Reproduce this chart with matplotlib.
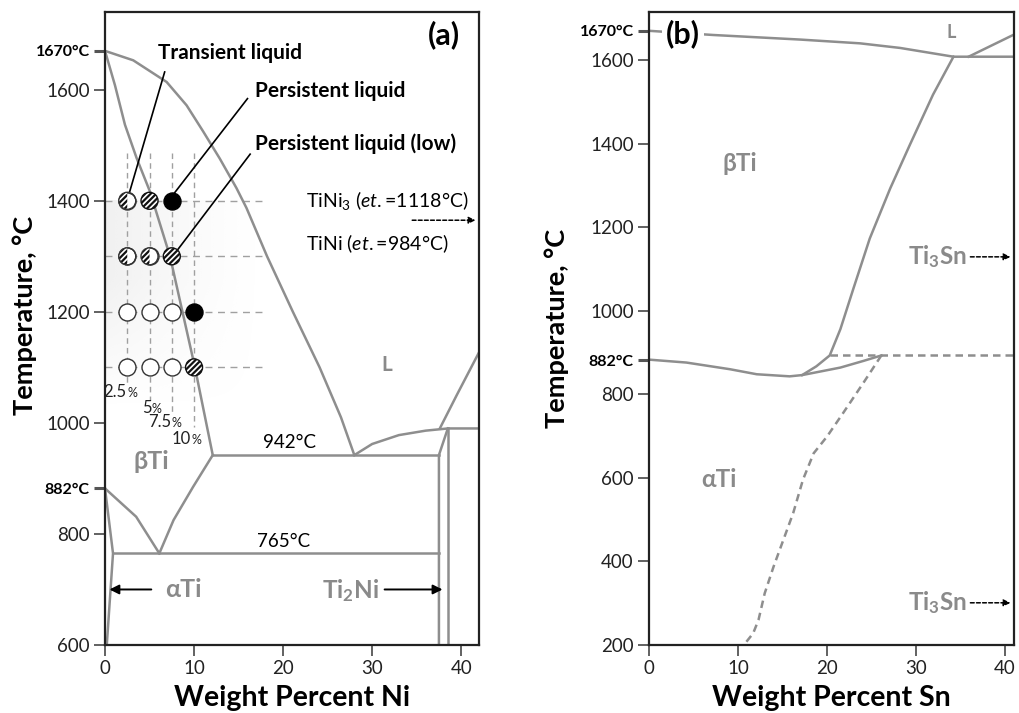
import numpy as np
import matplotlib
matplotlib.use("Agg")
import matplotlib.pyplot as plt
from matplotlib.markers import MarkerStyle

plt.rcParams['font.family'] = ['Lato', 'DejaVu Sans']
plt.rcParams['mathtext.fontset'] = 'custom'
plt.rcParams['mathtext.rm'] = 'Lato'
plt.rcParams['mathtext.it'] = 'Lato:italic'
plt.rcParams['mathtext.bf'] = 'Lato:bold'
plt.rcParams['hatch.linewidth'] = 1.6

# ---------------- data: Ti-Ni (panel a) ----------------
ni_liq_x = [0, 3.17, 6.92, 9.16, 11.02, 12.89, 14.76, 15.89, 18.2, 21.1, 24.1, 26.5, 28.0]
ni_liq_t = [1670, 1653, 1614, 1572, 1525, 1476, 1423, 1387, 1300, 1200, 1100, 1010, 942]
ni_sol_x = [0, 1.12, 2.24, 3.55, 5.04, 7.3, 8.7, 10.1, 12.1]
ni_sol_t = [1670, 1608, 1537, 1477, 1417, 1300, 1200, 1100, 942]
ni_eut_x = [12.1, 37.5]
ni_eut_t = [942, 942]
ni_ti2ni_liq_x = [28.0, 30, 33, 36, 38.5, 42]
ni_ti2ni_liq_t = [942, 962, 978, 986, 990, 990]
ni_right_x = [37.6, 39.5, 42]
ni_right_t = [990, 1050, 1127]
ni_btr1_x = [0, 3.5, 6.1]
ni_btr1_t = [882, 831, 765]
ni_btr2_x = [6.1, 7.7, 9.9, 12.1]
ni_btr2_t = [765, 825, 885, 942]
ni_eutd_x = [0.9, 37.5]
ni_eutd_t = [765, 765]
ni_asol_x = [0, 0.9, 0.2]
ni_asol_t = [882, 765, 600]
ni_ti2ni_a_x = [37.5, 37.5, 38.5]
ni_ti2ni_a_t = [600, 942, 990]
ni_ti2ni_b_x = [38.5, 38.5]
ni_ti2ni_b_t = [600, 990]

ni_yticks = [600, 800, 1000, 1200, 1400, 1600]
ni_xticks = [0, 10, 20, 30, 40]

comp = [2.5, 5, 7.5, 10]
comp_labels = ['2.5%', '5%', '7.5%', '10%']
temps = [1400, 1300, 1200, 1100]
marker_x = [2.5, 5, 7.5, 2.5, 5, 7.5, 2.5, 5, 7.5, 10, 2.5, 5, 7.5, 10]
marker_t = [1400, 1400, 1400, 1300, 1300, 1300, 1200, 1200, 1200, 1200, 1100, 1100, 1100, 1100]
marker_state = ['half', 'hatch', 'solid', 'half', 'half', 'hatch',
                'open', 'open', 'open', 'solid', 'open', 'open', 'open', 'hatch']

# ---------------- data: Ti-Sn (panel b) ----------------
sn_liq_x = [0, 7.2, 17.0, 23.7, 28.2, 34.2, 41]
sn_liq_t = [1670, 1660, 1649, 1640, 1629, 1608, 1608]
sn_ti3sn_liq_x = [35.9, 41]
sn_ti3sn_liq_t = [1608, 1661]
sn_bsolv_x = [34.2, 31.9, 29.3, 27.1, 24.8, 22.96, 21.5, 20.3, 18.8, 17.2]
sn_bsolv_t = [1608, 1517, 1397, 1293, 1173, 1053, 956, 893, 867, 846]
sn_btr_x = [0, 4.2, 9.1, 12.1, 15.8, 17.2, 21.5, 24.1, 26.1]
sn_btr_t = [883, 876, 860, 848, 843, 846, 864, 880, 893]
sn_eutd_x = [20.3, 41]
sn_eutd_t = [893, 893]
sn_asol_x = [26.1, 24.1, 21.8, 20.0, 18.5, 17.3, 16.2, 15.1, 14.0, 13.0, 12.3, 11.7, 10.8]
sn_asol_t = [893, 828, 755, 699, 659, 596, 516, 452, 388, 324, 260, 228, 204]
sn_yticks = [200, 400, 600, 800, 1000, 1200, 1400, 1600]
sn_xticks = [0, 10, 20, 30, 40]

GRAY = '#8e8e8e'
TXTGRAY = '#8a8a8a'
LW = 1.8

fig = plt.figure(figsize=(10.19, 7.13), dpi=100)
axA = fig.add_axes([105/1019, 1-645/713, 374/1019, 633/713])
axB = fig.add_axes([649/1019, 1-645/713, 365/1019, 633/713])


def style_axis(ax, xlim, ylim, xticks, yticks, xlabel, ylabel_x, ylabel_y):
    ax.set_xlim(*xlim)
    ax.set_ylim(*ylim)
    ax.set_xticks(xticks)
    ticks = list(yticks) + [882, 1670]
    ax.set_yticks(ticks)
    labels = [str(t) for t in yticks] + ['882°C', '1670°C']
    ax.set_yticklabels(labels)
    ax.tick_params(axis='both', direction='out', length=8, width=1.3,
                   color='#555555', labelsize=13.5, pad=3, labelcolor='#222222')
    for tk, lab in zip(ax.yaxis.get_major_ticks(), ax.get_yticklabels()):
        if lab.get_text().endswith('°C'):
            lab.set_fontweight('bold')
            lab.set_fontsize(11.5)
            lab.set_color('black')
            tk.tick1line.set_markeredgewidth(2.2)
            tk.tick1line.set_color('black')
    for s in ax.spines.values():
        s.set_linewidth(1.6)
        s.set_color('#222222')
        s.set_zorder(6)
    ax.set_xlabel(xlabel, fontsize=20.5, fontweight='bold', va='center')
    ax.xaxis.set_label_coords(0.5, -0.084)
    ax.set_ylabel('Temperature, °C', fontsize=19.5, fontweight='bold', va='center')
    ax.yaxis.set_label_coords(ylabel_x, ylabel_y)


# ---------------- panel (a) ----------------
ax = axA
style_axis(ax, (0, 42), (600, 1740), ni_xticks, ni_yticks, 'Weight Percent Ni', -0.214, 0.52)

# very light gradient background behind the markers
gx = np.linspace(0, 1, 200)
gy = np.linspace(0, 1, 200)
GX, GY = np.meshgrid(gx, gy)
alpha = (1 - GX) ** 1.3 * np.clip(GY * 1.6, 0, 1)
rgba = np.zeros((200, 200, 4))
rgba[..., :3] = 0.80
rgba[..., 3] = alpha * 0.28
ax.imshow(rgba, extent=[0, 17.5, 1030, 1400], aspect='auto', origin='lower',
          zorder=0, interpolation='bilinear')

for xs, ts in [(ni_liq_x, ni_liq_t), (ni_sol_x, ni_sol_t), (ni_eut_x, ni_eut_t),
               (ni_ti2ni_liq_x, ni_ti2ni_liq_t), (ni_right_x, ni_right_t),
               (ni_btr1_x, ni_btr1_t), (ni_btr2_x, ni_btr2_t), (ni_eutd_x, ni_eutd_t),
               (ni_asol_x, ni_asol_t), (ni_ti2ni_a_x, ni_ti2ni_a_t),
               (ni_ti2ni_b_x, ni_ti2ni_b_t)]:
    ax.plot(xs, ts, color=GRAY, lw=LW, zorder=2, solid_joinstyle='round')

# dashed guides
vend = [1072, 1041, 1017, 992]
for c, ve in zip(comp, vend):
    ax.plot([c, c], [1486, ve], color='#a0a0a0', lw=1.0, ls=(0, (4, 3)), zorder=1)
for t in temps:
    ax.plot([0, 17.7], [t, t], color='#a0a0a0', lw=1.0, ls=(0, (5, 4)), zorder=1)

# labels of compositions
lab_pos = [(2.4, 1056), (5.2, 1027), (7.4, 1002), (9.6, 971)]
for (lx, lt), s in zip(lab_pos, comp_labels):
    num = s[:-1]
    ax.annotate(num, (lx, lt), ha='right', va='center', fontsize=12, color='#222222')
    ax.annotate('%', (lx, lt), xytext=(0.5, -1), textcoords='offset points',
                ha='left', va='center', fontsize=9, color='#222222')

# markers
S = 150
mx = np.array(marker_x)
mt = np.array(marker_t)
st = np.array(marker_state)
m = st == 'open'
ax.scatter(mx[m], mt[m], s=S, facecolor='white', edgecolor='#333333', lw=1.0, zorder=5)
m = st == 'solid'
ax.scatter(mx[m], mt[m], s=S, facecolor='black', edgecolor='black', lw=1.0, zorder=5)
m = st == 'hatch'
ax.scatter(mx[m], mt[m], s=S, facecolor='white', edgecolor='#111111', lw=1.0,
           hatch='//////', zorder=5)
m = st == 'half'
ax.scatter(mx[m], mt[m], s=S, facecolor='white', edgecolor='#333333', lw=1.0, zorder=5)
ax.scatter(mx[m], mt[m], s=S, marker=MarkerStyle('o', fillstyle='left'),
           facecolor='white', edgecolor='#111111', lw=0, hatch='//////', zorder=6)
ax.scatter(mx[m], mt[m], s=S, facecolor='none', edgecolor='#333333', lw=1.0, zorder=7)

# annotations with leader lines
ax.plot([2.6, 6.7], [1407, 1632], color='black', lw=1.2, zorder=4)
ax.text(5.9, 1666, 'Transient liquid', fontsize=15, fontweight='bold', va='center', ha='left')
ax.plot([7.6, 16.0], [1410, 1584], color='black', lw=1.2, zorder=4)
ax.text(16.8, 1597, 'Persistent liquid', fontsize=15, fontweight='bold', va='center', ha='left')
ax.plot([7.6, 16.3], [1300, 1484], color='black', lw=1.2, zorder=4)
ax.text(16.9, 1502, 'Persistent liquid (low)', fontsize=15, fontweight='bold', va='center', ha='left')

ax.text(22.6, 1401, 'TiNi$_3$ ($\\mathit{et.}$=1118°C)', fontsize=14, va='center', ha='left')
ax.text(22.6, 1323, 'TiNi ($\\mathit{et.}$=984°C)', fontsize=14, va='center', ha='left')
ax.annotate('', xy=(41.6, 1365), xytext=(34.5, 1365),
            arrowprops=dict(arrowstyle='-|>', color='black', lw=1.1, ls=(0, (2.5, 1.5)),
                            mutation_scale=10, shrinkA=0, shrinkB=0))

ax.text(38.1, 1700, '(a)', fontsize=22, fontweight='bold', ha='center', va='center')
ax.text(31.6, 1104, 'L', fontsize=15, fontweight='bold', color=TXTGRAY, ha='center', va='center')
ax.text(5.2, 930, 'βTi', fontsize=18, fontweight='bold', color=TXTGRAY, ha='center', va='center')
ax.text(20.7, 964, '942°C', fontsize=13.5, ha='center', va='center')
ax.text(20.0, 786, '765°C', fontsize=13.5, ha='center', va='center')
ax.text(8.8, 700, 'αTi', fontsize=18, fontweight='bold', color=TXTGRAY, ha='center', va='center')
ax.annotate('', xy=(0.5, 700), xytext=(5.2, 700),
            arrowprops=dict(arrowstyle='-|>', color='black', lw=1.4, mutation_scale=14,
                            shrinkA=0, shrinkB=0))
ax.text(27.6, 697, 'Ti$_\\mathbf{2}$Ni', fontsize=17.5, fontweight='bold', color=TXTGRAY,
        ha='center', va='center')
ax.annotate('', xy=(37.9, 700), xytext=(31.4, 700),
            arrowprops=dict(arrowstyle='-|>', color='black', lw=1.4, mutation_scale=14,
                            shrinkA=0, shrinkB=0))

# ---------------- panel (b) ----------------
ax = axB
style_axis(ax, (0, 41), (200, 1715), sn_xticks, sn_yticks, 'Weight Percent Sn', -0.252, 0.5)

for xs, ts in [(sn_liq_x, sn_liq_t), (sn_ti3sn_liq_x, sn_ti3sn_liq_t),
               (sn_bsolv_x, sn_bsolv_t), (sn_btr_x, sn_btr_t)]:
    ax.plot(xs, ts, color=GRAY, lw=LW, zorder=2, solid_joinstyle='round')
for xs, ts in [(sn_eutd_x, sn_eutd_t), (sn_asol_x, sn_asol_t)]:
    ax.plot(xs, ts, color=GRAY, lw=LW, ls=(0, (3, 2)), zorder=2)

ax.text(3.8, 1664, '(b)', fontsize=22, fontweight='bold', ha='center', va='center', zorder=3,
        bbox=dict(facecolor='white', edgecolor='none', pad=3))
ax.text(33.9, 1667, 'L', fontsize=13, fontweight='bold', color=TXTGRAY, ha='center', va='center')
ax.text(10.2, 1353, 'βTi', fontsize=17.5, fontweight='bold', color=TXTGRAY, ha='center', va='center')
ax.text(7.9, 595, 'αTi', fontsize=17.5, fontweight='bold', color=TXTGRAY, ha='center', va='center')
for ty in (1129, 301):
    ax.text(32.4, ty, 'Ti$_\\mathbf{3}$Sn', fontsize=17.5, fontweight='bold', color=TXTGRAY,
            ha='center', va='center')
    ax.annotate('', xy=(40.6, ty), xytext=(36.1, ty),
                arrowprops=dict(arrowstyle='-|>', color='black', lw=1.1, ls=(0, (2.5, 1.5)),
                                mutation_scale=10, shrinkA=0, shrinkB=0))

fig.savefig('out.png', dpi=100)
